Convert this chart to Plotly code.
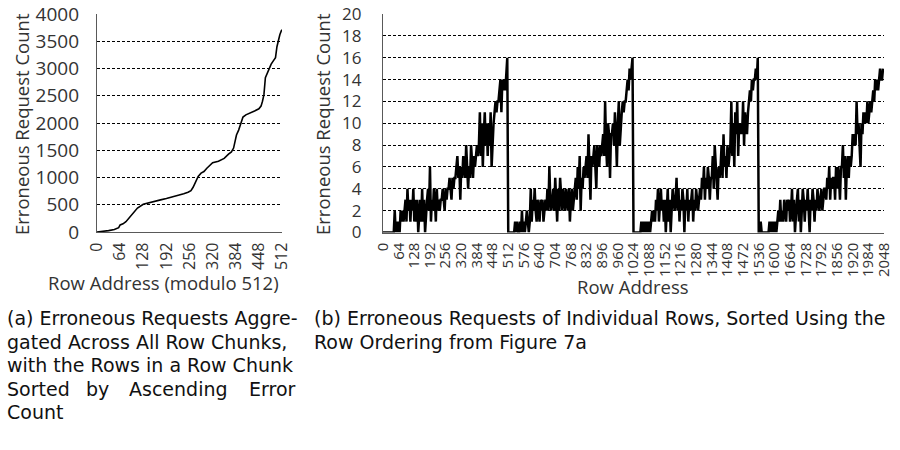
import plotly.graph_objects as go

# ---------- data ----------
# (a) aggregated erroneous requests vs row address (modulo 512)
a_rows = [0, 16, 32, 48, 56, 60, 64, 72, 80, 88, 96, 104, 112, 128, 144, 160, 176, 192,
          208, 224, 240, 252, 260, 266, 272, 280, 288, 296, 304, 312, 320, 336, 352, 364,
          372, 378, 382, 386, 392, 398, 404, 412, 424, 436, 448, 454, 458, 462, 466, 470,
          476, 482, 488, 494, 498, 502, 506, 510, 512]
a_counts = [0, 10, 25, 45, 60, 80, 130, 150, 190, 250, 330, 390, 440, 510, 540, 565, 590, 615,
            640, 670, 700, 730, 760, 820, 900, 1020, 1080, 1110, 1170, 1220, 1270, 1300, 1350, 1430,
            1470, 1540, 1640, 1780, 1870, 2000, 2110, 2150, 2180, 2220, 2260, 2310, 2400, 2520, 2830, 2900,
            3000, 3080, 3140, 3200, 3400, 3530, 3620, 3690, 3710]

# (b) erroneous requests of individual rows, one value every 4 rows, per 512-row chunk
chunk1 = [0, 0, 0, 0, 0, 0, 0, 0, 0, 0, 0, 0,
          2, 0, 1, 0, 1, 0, 2,
          1, 2, 1, 2, 3, 1,
          4, 2, 3, 1, 3, 2, 4, 1, 3,
          1, 3, 0, 2, 3, 1, 4, 1, 3, 0,
          2, 3, 4, 2, 6, 1, 3, 2, 4, 3, 1, 4, 2, 3, 2, 3,
          3, 4, 3, 2, 4, 3, 4,
          4, 5, 4, 3, 5, 4, 5,
          5, 6, 7, 5, 6, 3, 6, 5, 7, 6,
          5, 8, 6, 4, 6, 5, 8, 6, 5, 7,
          6, 7, 8, 7,
          8, 11, 7, 10, 6, 9, 11, 8, 10, 7,
          10, 8, 11, 6, 9, 10,
          11, 12, 11, 12, 12,
          13, 14, 11, 14, 13,
          14, 13, 15, 16]
chunk2 = [0, 0, 0, 0, 0, 0, 0,
          1, 0, 1, 0, 0, 1, 0,
          2, 0, 1, 0, 1, 2, 1, 0, 1,
          4, 1, 3, 2, 4,
          2, 1, 3, 2, 1, 3, 2, 3, 1, 2, 3, 2,
          4, 2, 6, 3, 2,
          3, 4, 2, 5, 3, 1, 4, 2, 5, 3, 2, 4, 3, 2, 4,
          3, 2, 4, 1, 3, 4, 2, 3, 4,
          5, 3, 6, 4, 7, 2, 5, 4, 6, 5,
          6, 7, 5, 9, 6, 3, 7, 6,
          7, 8, 6, 4, 8, 7, 6, 8, 7,
          8, 9, 7, 12, 8, 6, 10, 9, 5, 9,
          9, 10, 8, 11, 9, 6, 10, 12, 8, 10,
          11, 12, 11, 12, 12,
          13, 14, 13, 15, 14,
          15, 16]
chunk3 = [0, 0, 0, 0, 0, 0, 0, 0,
          1, 0, 1, 0,
          1, 0, 1, 0, 1, 0, 1, 2, 1,
          2, 1, 3, 2, 4, 1, 3, 4, 2, 3,
          1, 3, 0, 2, 4, 1, 3, 0, 2, 4, 3,
          2, 3, 5, 2, 4, 1, 3, 2, 4, 3, 0, 3, 2, 4, 1, 3, 2, 3, 4, 1, 3, 2, 4, 3, 2, 3,
          4, 3, 5, 4, 6, 3, 5, 4, 6, 5, 3, 5,
          5, 7, 4, 8, 6, 5, 3, 6, 5,
          6, 8, 5, 9, 6, 7, 5, 8, 6, 7,
          8, 12, 7, 10, 6, 11, 9, 12, 7, 10, 9,
          10, 9, 12, 8, 11, 10, 9, 11,
          12, 13, 12, 14, 13, 14,
          14, 15, 14, 16]
chunk4 = [0, 0, 1, 0, 0, 0, 0, 0, 0, 0, 0, 1,
          0, 1, 0, 1, 0, 1, 0, 1,
          2, 1, 3, 1, 2, 1, 3, 2, 1, 3, 2, 3, 1, 2,
          4, 1, 3, 0, 2, 3, 4, 1, 3, 0, 2, 4, 3, 1, 3, 2, 4, 1, 0, 3, 2, 4, 3, 1, 3, 2, 4, 3, 2, 3, 4, 2, 3, 4,
          4, 3, 5, 4, 6, 3, 5, 4, 5,
          5, 3, 6, 4, 6, 5, 3, 6,
          6, 8, 5, 7, 3, 6, 7, 5, 7, 6,
          7, 9, 8, 9,
          8, 12, 9, 10, 8, 6, 10, 9, 11, 10,
          11, 10, 12, 10, 11, 12, 11,
          12, 13, 12, 14, 13, 14, 13,
          14, 15, 14, 14, 15]
b_step = 4
chunk_size = 512

a_xticks = list(range(0, 513, 64))
a_yticks = list(range(0, 4001, 500))
b_xticks = list(range(0, 2049, 64))
b_yticks = list(range(0, 21, 2))

y_title = "Erroneous Request Count"
a_xtitle = "Row Address (modulo 512)"
b_xtitle = "Row Address"
cap_a = ["(a) Erroneous Requests Aggre-", "gated Across All Row Chunks,",
         "with the Rows in a Row Chunk", ["Sorted", "by", "Ascending", "Error"], "Count"]
cap_b = ["(b) Erroneous Requests of Individual Rows, Sorted Using the",
         "Row Ordering from Figure 7a"]

# ---------- build (b) series ----------
b_x, b_y = [], []
for k, ch in enumerate([chunk1, chunk2, chunk3, chunk4]):
    for i, v in enumerate(ch):
        b_x.append(k * chunk_size + i * b_step)
        b_y.append(v)

W, H = 900, 450
def px(xp):
    return xp / W
def py(yp):
    return 1 - yp / H

TICK = "Open Sans"
TXT = "#333333"
fig = go.Figure()
fig.add_trace(go.Scatter(x=a_rows, y=a_counts, mode="lines",
                         line=dict(color="black", width=1.6), xaxis="x", yaxis="y",
                         showlegend=False))
fig.add_trace(go.Scatter(x=b_x, y=b_y, mode="lines",
                         line=dict(color="black", width=2.5), xaxis="x2", yaxis="y2",
                         showlegend=False))

grid = dict(showgrid=True, gridcolor="black", gridwidth=1, griddash="3px,2px")
axline = dict(showline=True, linecolor="#595959", linewidth=1.3, automargin=False,
              ticklabeloverflow="allow")

fig.update_layout(
    width=W, height=H, margin=dict(l=0, r=0, t=0, b=0, autoexpand=False),
    paper_bgcolor="white", plot_bgcolor="white",
    font=dict(family=TICK, color=TXT),
    xaxis=dict(domain=[px(97), px(282)], range=[0, 512], tickvals=a_xticks,
               tickangle=-90, tickfont=dict(size=16, family=TICK, color=TXT),
               showgrid=False, zeroline=False, ticks="", ticklabelstandoff=3,
               anchor="y", **axline),
    yaxis=dict(domain=[py(232), py(14)], range=[0, 4000], tickvals=a_yticks,
               tickfont=dict(size=19, family=TICK, color=TXT), zeroline=False,
               ticks="", ticklabelstandoff=13, anchor="x", **grid, **axline),
    xaxis2=dict(domain=[px(383), px(884)], range=[0, 2048], tickvals=b_xticks,
                tickangle=-90, tickfont=dict(size=15, family=TICK, color=TXT),
                showgrid=False, zeroline=False, ticks="", ticklabelstandoff=3,
                anchor="y2", **axline),
    yaxis2=dict(domain=[py(232.5), py(14)], range=[0, 20], tickvals=b_yticks,
                tickfont=dict(size=17, family=TICK, color=TXT), zeroline=False,
                ticks="", ticklabelstandoff=17, anchor="x2", **grid, **axline),
)

ann = []
tf = dict(size=18.5, family=TICK, color=TXT)
ann.append(dict(text=y_title, x=px(21), y=py(124), textangle=-90, font=tf))
ann.append(dict(text=y_title, x=px(322), y=py(124), textangle=-90, font=tf))
ann.append(dict(text=a_xtitle, x=px(163), y=py(282), font=tf))
ann.append(dict(text=b_xtitle, x=px(633), y=py(286), font=tf))

CAP = "DejaVu Sans"
capfont = dict(size=19, family=CAP, color="#111111")
cap_y = [318, 342, 365, 389, 412]
for line, yy in zip(cap_a, cap_y):
    if isinstance(line, list):
        words = [(line[0], 6, "left"), (line[1], 97, "center"), (line[2], 178, "center"), (line[3], 297, "right")]
        for w, xx, anc in words:
            ann.append(dict(text=w, x=px(xx), y=py(yy), xanchor=anc, font=capfont))
    else:
        ann.append(dict(text=line, x=px(6), y=py(yy), xanchor="left", font=capfont))
for line, yy in zip(cap_b, cap_y):
    ann.append(dict(text=line, x=px(313), y=py(yy), xanchor="left", font=capfont))

for a in ann:
    a.setdefault("xanchor", "center")
    a.update(xref="paper", yref="paper", showarrow=False, yanchor="middle",
             borderpad=0)
fig.update_layout(annotations=ann)

fig.write_html("out.html", config={"displayModeBar": False},
               post_script="document.body.style.margin='0';document.body.style.padding='0';"
                           "document.body.style.overflow='hidden';")
